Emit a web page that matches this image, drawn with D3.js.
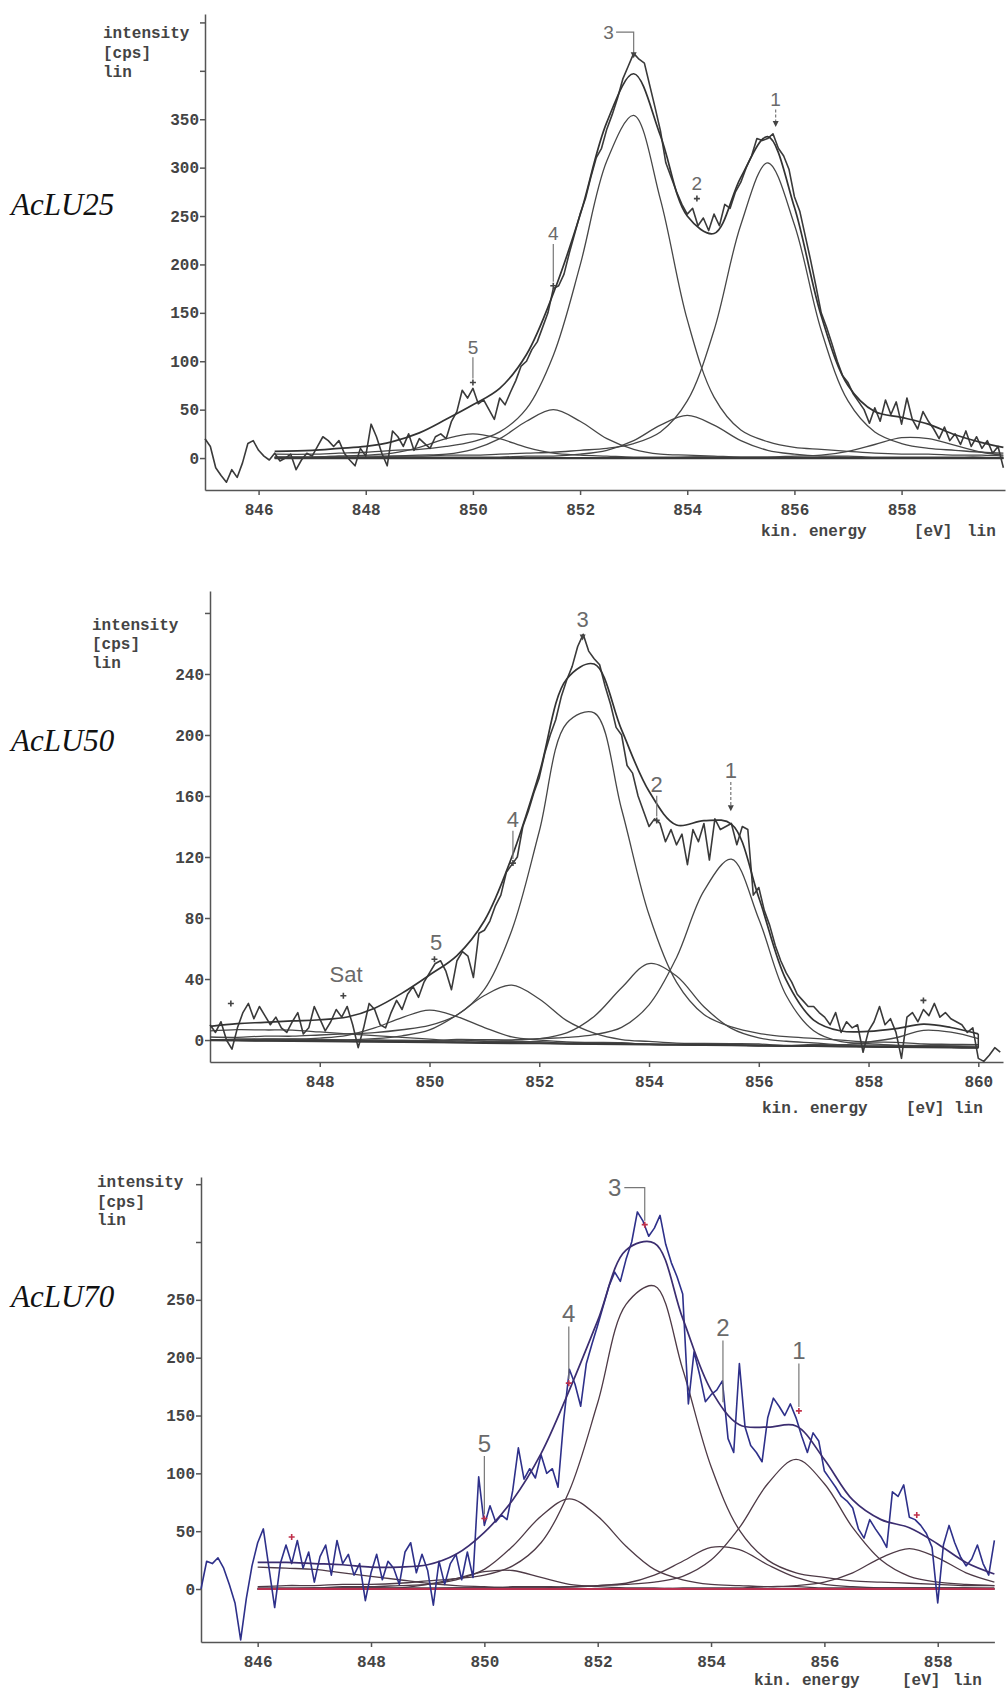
<!DOCTYPE html>
<html>
<head>
<meta charset="utf-8">
<script src="https://cdn.jsdelivr.net/npm/d3@7"></script>
<style>
  body { margin: 0; background: #fff; }
  svg text { font-family: "Liberation Mono", "DejaVu Sans Mono", monospace; }
  .axis path, .axis line { stroke: #555; stroke-width: 1.5; }
  .axis text, .axis-label { font-size: 16px; font-weight: bold; fill: #444; }
  .sample { font-family: "Liberation Serif", "Times New Roman", serif !important; font-style: italic; font-size: 31px; fill: #111; }
  .note { font-family: "Liberation Sans", Arial, sans-serif !important; fill: #6a6a6a; }
</style>
</head>
<body>
<svg id="chart" width="1007" height="1692"></svg>
<script>
// ---------- AcLU25 ----------
var grid25 = [846.3, 847, 847.5, 848, 848.5, 849, 849.5, 850, 850.5, 851, 851.5, 852, 852.5, 853,
              853.5, 854, 854.5, 855, 855.5, 856, 856.5, 857, 857.5, 858, 858.5, 859, 859.5, 859.9];
var fit25   = [7, 8, 10, 12, 17, 26, 40, 55, 72, 107, 170, 251, 347, 397, 333, 250, 232, 290, 332, 259, 147, 75, 48, 42, 35, 24, 16, 11];
var peak1_25 = [1, 1, 2, 2, 2, 2, 3, 3, 4, 5, 6, 8, 10, 15, 27, 59, 132, 241, 305, 241, 132, 59, 27, 15, 10, 8, 6, 5];
var peak2_25 = [0, 0, 0, 0, 1, 1, 1, 1, 1, 2, 2, 4, 8, 18, 34, 44, 34, 18, 8, 4, 2, 2, 1, 1, 1, 1, 1, 0];
var peak3_25 = [4, 4, 5, 6, 8, 9, 12, 17, 27, 51, 106, 199, 307, 354, 267, 143, 63, 29, 17, 11, 9, 7, 5, 4, 4, 3, 3, 2];
var peak4_25 = [1, 1, 1, 1, 2, 3, 4, 9, 20, 38, 50, 38, 20, 9, 4, 3, 2, 1, 1, 1, 1, 1, 0, 0, 0, 0, 0, 0];
var peak5_25 = [1, 1, 2, 3, 5, 11, 20, 25, 20, 11, 5, 3, 2, 1, 1, 1, 1, 0, 0, 0, 0, 0, 0, 0, 0, 0, 0, 0];
var peak6_25 = [0, 0, 0, 0, 0, 0, 0, 0, 0, 0, 0, 0, 0, 0, 0, 1, 1, 1, 1, 2, 3, 7, 14, 21, 20, 13, 6, 3];
// measured counts, 845.0 eV onwards every 0.1 eV
var spec25 = [
  20, 12, -10, -18, -25, -12, -20, -5, 15, 18,
  8, 2, -2, 5, -3, 0, 4, -12, -2, 5,
  2, 12, 22, 18, 12, 18, 5, -2, -8, 10,
  2, 35, 22, 5, -8, 28, 22, 12, 25, 8,
  20, 15, 10, 22, 25, 20, 38, 48, 70, 62,
  72, 56, 60, 50, 40, 62, 55, 68, 80, 95,
  100, 112, 120, 135, 150, 175, 178, 190, 212, 232,
  252, 268, 290, 310, 320, 340, 355, 372, 392, 405,
  418, 412, 408, 385, 362, 338, 305, 290, 275, 262,
  252, 258, 240, 248, 235, 252, 240, 262, 258, 275,
  285, 300, 312, 330, 328, 330, 335, 320, 312, 298,
  270, 255, 230, 205, 178, 150, 135, 118, 100, 85,
  78, 66, 58, 50, 36, 52, 38, 60, 45, 58,
  35, 62, 40, 30, 48, 38, 30, 20, 32, 18,
  25, 14, 28, 12, 22, 10, 18, 5, 12, -10];
var notes25 = [
  {text: "5", labelE: 850.0, labelV: 115, tipE: 850.0, tipV: 78, leader: "line", mark: "plus"},
  {text: "4", labelE: 851.5, labelV: 232, tipE: 851.5, tipV: 178, leader: "line", mark: "plus"},
  {text: "3", labelE: 852.53, labelV: 440, tipE: 853.0, tipV: 413, leader: "bracket", mark: "arrow"},
  {text: "2", labelE: 854.18, labelV: 284, tipE: 854.18, tipV: 268, leader: "none", mark: "plus"},
  {text: "1", labelE: 855.65, labelV: 371, tipE: 855.65, tipV: 342, leader: "dash", mark: "arrow"}];

// ---------- AcLU50 ----------
var grid50 = d3.range(846, 860.01, 0.5);
var fit50   = [9, 11, 12, 13, 14, 16, 22, 32, 44, 57, 80, 122, 177, 239, 249, 206, 166, 144, 147, 145, 97, 43, 17, 10, 10, 12, 15, 13, 9];
var back50  = [0, -0.2, -0.4, -0.5, -0.7, -0.9, -1.1, -1.25, -1.4, -1.6, -1.8, -2, -2.1, -2.3, -2.5, -2.7, -2.9, -3, -3.2, -3.4, -3.6, -3.8, -3.9, -4.1, -4.3, -4.5, -4.6, -4.8, -5];
var peak1_50 = [0, 0, 1, 1, 1, 1, 1, 1, 1, 2, 2, 2, 3, 4, 6, 11, 26, 57, 101, 122, 83, 33, 10, 3, 2, 1, 1, 1, 1];
var peak2_50 = [0, 0, 0, 0, 0, 0, 1, 1, 1, 1, 2, 2, 3, 7, 18, 37, 53, 45, 25, 11, 5, 3, 2, 1, 1, 1, 1, 1, 0];
var peak3_50 = [2, 2, 3, 3, 4, 5, 6, 8, 11, 18, 35, 74, 139, 210, 217, 154, 85, 41, 20, 12, 8, 6, 5, 4, 3, 3, 2, 2, 2];
var peak4_50 = [0, 0, 1, 1, 1, 1, 2, 4, 8, 18, 31, 38, 29, 15, 7, 3, 2, 1, 1, 1, 1, 0, 0, 0, 0, 0, 0, 0, 0];
var peak5_50 = [0, 1, 1, 1, 2, 4, 9, 16, 21, 17, 10, 4, 2, 1, 1, 1, 0, 0, 0, 0, 0, 0, 0, 0, 0, 0, 0, 0, 0];
var peak6_50 = [0, 0, 0, 0, 0, 0, 0, 0, 0, 0, 0, 0, 0, 0, 0, 0, 0, 0, 0, 0, 0, 0, 1, 1, 3, 6, 11, 10, 6];
var sat50    = [6, 7, 7, 7, 6, 5, 4, 3, 2, 1, 1, 1, 1, 0, 0, 0, 0, 0, 0, 0, 0, 0, 0, 0, 0, 0, 0, 0, 0];
// measured counts, 846.0 eV onwards every 0.1 eV
var spec50 = [
  10, 5, 12, 0, -6, 8, 18, 24, 14, 22,
  16, 10, 15, 8, 5, 12, 18, 4, 8, 22,
  14, 6, 12, 20, 15, 22, 10, -5, 8, 24,
  20, 10, 8, 18, 26, 20, 30, 35, 28, 38,
  44, 50, 52, 45, 33, 52, 58, 55, 41, 70,
  72, 78, 88, 95, 110, 115, 120, 140, 150, 162,
  172, 188, 200, 210, 225, 236, 245, 258, 266, 255,
  250, 246, 232, 220, 205, 200, 180, 175, 160, 150,
  140, 145, 142, 130, 138, 128, 135, 115, 138, 130,
  142, 118, 145, 138, 140, 142, 128, 140, 138, 95,
  100, 85, 75, 62, 52, 44, 38, 30, 26, 22,
  22, 18, 15, 10, 18, 5, 12, 8, 10, -8,
  6, 12, 22, 10, 14, 5, -12, 15, 18, 12,
  20, 16, 24, 15, 18, 14, 12, 10, 5, 8,
  -12, -14, -10, -5, -8];
var notes50 = [
  {text: "", labelE: 846.38, labelV: 24, tipE: 846.38, tipV: 24, leader: "none", mark: "plus"},
  {text: "Sat", labelE: 848.48, labelV: 43, tipE: 848.43, tipV: 29, leader: "none", mark: "plus"},
  {text: "5", labelE: 850.12, labelV: 64, tipE: 850.09, tipV: 53, leader: "none", mark: "plus"},
  {text: "4", labelE: 851.52, labelV: 145, tipE: 851.52, tipV: 116, leader: "line", mark: "plus"},
  {text: "3", labelE: 852.79, labelV: 276, tipE: 852.79, tipV: 262, leader: "none", mark: "arrow"},
  {text: "2", labelE: 854.14, labelV: 168, tipE: 854.14, tipV: 144, leader: "line", mark: "plus"},
  {text: "1", labelE: 855.49, labelV: 177, tipE: 855.49, tipV: 150, leader: "dash", mark: "arrow"},
  {text: "", labelE: 859.0, labelV: 26, tipE: 859.0, tipV: 26, leader: "none", mark: "plus"}];

// ---------- AcLU70 ----------
var grid70 = d3.range(846, 859.01, 0.5);
var fit70   = [23, 23, 22, 21, 19, 19, 21, 30, 49, 77, 117, 172, 232, 293, 299, 234, 172, 142, 140, 141, 112, 77, 60, 53, 39, 23, 13];
var peak1_70 = [0, 0, 1, 1, 1, 1, 1, 1, 1, 2, 2, 2, 3, 4, 6, 11, 25, 53, 91, 112, 91, 53, 25, 11, 6, 4, 3];
var peak2_70 = [0, 0, 0, 0, 0, 0, 0, 1, 1, 1, 1, 2, 3, 5, 12, 24, 36, 34, 21, 10, 4, 2, 1, 1, 1, 1, 1];
var peak3_70 = [2, 3, 3, 4, 4, 5, 7, 9, 12, 20, 40, 85, 161, 246, 262, 190, 106, 51, 25, 14, 10, 7, 6, 5, 4, 3, 3];
var peak4_70 = [1, 1, 1, 2, 2, 3, 4, 8, 17, 37, 63, 78, 63, 37, 17, 8, 4, 3, 2, 2, 1, 1, 1, 1, 1, 1, 0];
var peak5_70 = [0, 0, 0, 1, 1, 1, 4, 9, 15, 16, 10, 4, 2, 1, 1, 0, 0, 0, 0, 0, 0, 0, 0, 0, 0, 0, 0];
var peak6_70 = [0, 0, 0, 0, 0, 0, 0, 0, 0, 0, 0, 0, 0, 0, 0, 1, 1, 1, 2, 3, 6, 14, 27, 35, 27, 14, 6];
var sat70    = [19, 18, 17, 14, 11, 8, 5, 3, 2, 1, 1, 1, 0, 0, 0, 0, 0, 0, 0, 0, 0, 0, 0, 0, 0, 0, 0];
// measured counts, 845.0 eV onwards every 0.1 eV
var spec70 = [
  0, 24, 22, 27, 18, 4, -12, -44, -8, 20,
  40, 52, 18, -16, 22, 38, 22, 42, 18, 32,
  6, 28, 38, 12, 42, 22, 30, 12, 22, -10,
  14, 30, 8, 24, 18, 4, 32, 40, 14, 30,
  16, -14, 24, 4, 22, 30, 8, 32, 10, 97,
  55, 72, 58, 64, 60, 85, 122, 95, 104, 96,
  116, 100, 104, 88, 146, 190, 177, 158, 195, 212,
  228, 245, 262, 274, 266, 285, 300, 326, 318, 305,
  312, 323, 298, 282, 270, 255, 160, 205, 185, 162,
  168, 172, 180, 130, 118, 195, 140, 124, 118, 110,
  148, 165, 158, 150, 160, 148, 132, 118, 135, 128,
  102, 95, 88, 80, 76, 70, 52, 44, 60, 52,
  45, 36, 84, 80, 90, 62, 60, 55, 48, 36,
  -12, 38, 55, 40, 28, 20, 26, 38, 22, 12,
  42];
var notes70 = [
  {text: "", labelE: 846.6, labelV: 45, tipE: 846.6, tipV: 45, leader: "none", mark: "plus"},
  {text: "5", labelE: 850.0, labelV: 126, tipE: 850.0, tipV: 61, leader: "line", mark: "plus"},
  {text: "4", labelE: 851.49, labelV: 238, tipE: 851.49, tipV: 178, leader: "line", mark: "plus"},
  {text: "3", labelE: 852.3, labelV: 347, tipE: 852.83, tipV: 315, leader: "bracket", mark: "plus"},
  {text: "2", labelE: 854.21, labelV: 226, tipE: 854.21, tipV: 158, leader: "line", mark: "none"},
  {text: "1", labelE: 855.55, labelV: 206, tipE: 855.55, tipV: 154, leader: "line", mark: "plus"},
  {text: "", labelE: 857.63, labelV: 64, tipE: 857.63, tipV: 64, leader: "none", mark: "plus"}];

var yTitle = ["intensity", "[cps]", "lin"];

var svg = d3.select("#chart");

function drawPanel(p) {
  var x = d3.scaleLinear().domain(p.xDomain).range(p.xRange);
  var y = d3.scaleLinear().domain(p.yDomain).range(p.yRange);
  var g = svg.append("g");
  var base = function (i) { return p.background ? p.background[i] : 0; };

  g.append("text").attr("class", "sample").attr("x", 11).attr("y", p.nameY).text(p.name);

  yTitle.forEach(function (t, i) {
    g.append("text").attr("class", "axis-label")
      .attr("x", p.titleX).attr("y", p.titleY[i]).attr("dy", "0.35em").text(t);
  });

  g.append("g").attr("class", "axis")
    .attr("transform", "translate(" + p.xRange[0] + ",0)")
    .call(d3.axisLeft(y).tickValues(p.yTicks).tickSize(5).tickSizeOuter(0).tickPadding(1)
      .tickFormat(function (d) { return d <= p.yLabelMax ? d : ""; }));

  g.append("g").attr("class", "axis")
    .attr("transform", "translate(0," + p.yRange[0] + ")")
    .call(d3.axisBottom(x).tickValues(p.xTicks).tickSize(5).tickSizeOuter(0).tickPadding(9)
      .tickFormat(d3.format("d")));

  var ty = p.yRange[0] + p.unitsDy;
  g.append("text").attr("class", "axis-label").attr("x", p.unitsX[0]).attr("y", ty).attr("dy", "0.35em").text("kin. energy");
  g.append("text").attr("class", "axis-label").attr("x", p.unitsX[1]).attr("y", ty).attr("dy", "0.35em").text("[eV]");
  g.append("text").attr("class", "axis-label").attr("x", p.unitsX[2]).attr("y", ty).attr("dy", "0.35em").text("lin");

  var smooth = d3.line()
    .x(function (d) { return x(d[0]); })
    .y(function (d) { return y(d[1]); })
    .curve(d3.curveCatmullRom.alpha(0.5));
  var straight = d3.line()
    .x(function (d) { return x(d[0]); })
    .y(function (d) { return y(d[1]); });

  // fitted components
  p.peaks.forEach(function (pk) {
    g.append("path")
      .datum(p.grid.map(function (e, i) { return [e, pk[i] + base(i)]; }))
      .attr("d", smooth)
      .attr("fill", "none")
      .attr("stroke", p.peakColor)
      .attr("stroke-width", 1.3);
  });

  // background
  g.append("path")
    .datum(p.grid.map(function (e, i) { return [e, base(i)]; }))
    .attr("d", straight)
    .attr("fill", "none")
    .attr("stroke", p.baseColor)
    .attr("stroke-width", 2.2);

  // measured spectrum
  g.append("path")
    .datum(p.spectrum.map(function (v, i) { return [p.specStart + i * 0.1, v]; }))
    .attr("d", straight)
    .attr("fill", "none")
    .attr("stroke", p.dataColor)
    .attr("stroke-width", 1.6)
    .attr("stroke-linejoin", "round");

  // envelope
  g.append("path")
    .datum(p.grid.map(function (e, i) { return [e, p.fit[i] + base(i)]; }))
    .attr("d", smooth)
    .attr("fill", "none")
    .attr("stroke", p.fitColor)
    .attr("stroke-width", 1.7);
  if (p.fitDrop) {
    var last = p.grid.length - 1;
    g.append("line")
      .attr("x1", x(p.grid[last])).attr("x2", x(p.grid[last]))
      .attr("y1", y(p.fit[last] + base(last))).attr("y2", y(base(last)))
      .attr("stroke", p.fitColor).attr("stroke-width", 1.5);
  }

  // peak labels
  p.notes.forEach(function (n) {
    var tx = x(n.labelE), tY = y(n.labelV), px = x(n.tipE), py = y(n.tipV);
    if (n.text) {
      g.append("text").attr("class", "note")
        .attr("x", tx).attr("y", tY).attr("dy", "0.36em")
        .attr("text-anchor", "middle")
        .style("font-size", p.noteSize + "px")
        .text(n.text);
    }
    if (n.leader === "line" || n.leader === "dash") {
      g.append("line")
        .attr("x1", px).attr("x2", px)
        .attr("y1", tY + p.noteSize * 0.45 + 2).attr("y2", py - 4)
        .attr("stroke", p.noteColor).attr("stroke-width", 1.2)
        .attr("stroke-dasharray", n.leader === "dash" ? "3,2" : null);
    } else if (n.leader === "bracket") {
      g.append("path")
        .attr("d", "M" + (tx + p.noteSize * 0.4) + "," + tY + "H" + px + "V" + (py - 4))
        .attr("fill", "none").attr("stroke", p.noteColor).attr("stroke-width", 1.2);
    }
    if (n.mark === "plus") {
      g.append("path")
        .attr("d", "M" + (px - 3) + "," + py + "h6M" + px + "," + (py - 3) + "v6")
        .attr("stroke", p.markColor).attr("stroke-width", 1.6);
    } else if (n.mark === "arrow") {
      g.append("path")
        .attr("d", "M" + (px - 3) + "," + (py - 6) + "L" + (px + 3) + "," + (py - 6) + "L" + px + "," + py + "Z")
        .attr("fill", p.markColor);
    }
  });
}

drawPanel({
  name: "AcLU25", nameY: 215,
  xDomain: [845, 859.93], xRange: [205, 1005],
  yDomain: [-33, 458.7], yRange: [490, 14],
  yTicks: d3.range(0, 451, 50), yLabelMax: 350, xTicks: d3.range(846, 859, 2),
  titleX: 103, titleY: [32, 52, 71],
  unitsDy: 40, unitsX: [761, 914, 967],
  grid: grid25, fit: fit25, background: null,
  peaks: [peak1_25, peak2_25, peak3_25, peak4_25, peak5_25, peak6_25],
  spectrum: spec25, specStart: 845.0, notes: notes25, noteSize: 19,
  dataColor: "#3a3a3a", fitColor: "#333", peakColor: "#474747", baseColor: "#3a3a3a",
  noteColor: "#777", markColor: "#444"
});

drawPanel({
  name: "AcLU50", nameY: 751,
  xDomain: [846, 860.45], xRange: [210, 1003],
  yDomain: [-14.4, 294.4], yRange: [1062, 591],
  yTicks: d3.range(0, 281, 40), yLabelMax: 240, xTicks: d3.range(848, 861, 2),
  titleX: 92, titleY: [624, 643, 662],
  unitsDy: 45, unitsX: [762, 906, 954],
  grid: grid50, fit: fit50, background: back50, fitDrop: true,
  peaks: [peak1_50, peak2_50, peak3_50, peak4_50, peak5_50, peak6_50, sat50],
  spectrum: spec50, specStart: 846.0, notes: notes50, noteSize: 22,
  dataColor: "#3a3a3a", fitColor: "#333", peakColor: "#474747", baseColor: "#3a3a3a",
  noteColor: "#777", markColor: "#444"
});

drawPanel({
  name: "AcLU70", nameY: 1307,
  xDomain: [845, 859], xRange: [201, 994.4],
  yDomain: [-45.8, 356.2], yRange: [1642, 1177],
  yTicks: d3.range(0, 351, 50), yLabelMax: 250, xTicks: d3.range(846, 859, 2),
  titleX: 97, titleY: [1181, 1201, 1219],
  unitsDy: 37, unitsX: [754, 902, 953],
  grid: grid70, fit: fit70, background: null,
  peaks: [peak1_70, peak2_70, peak3_70, peak4_70, peak5_70, peak6_70, sat70],
  spectrum: spec70, specStart: 845.0, notes: notes70, noteSize: 24,
  dataColor: "#2e308a", fitColor: "#3b2d70", peakColor: "#4e3a46", baseColor: "#b8304f",
  noteColor: "#777", markColor: "#c0304a"
});
</script>
</body>
</html>
